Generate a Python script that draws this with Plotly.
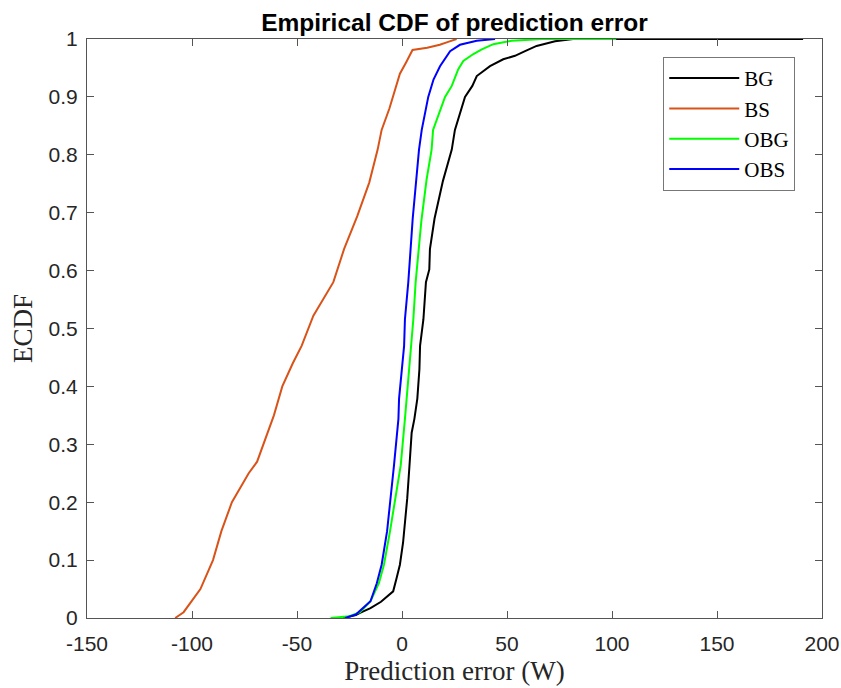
import plotly.graph_objects as go

# ---- data (prediction error in W, ECDF value) ----
bg_x = [-28, -22, -20, -15, -10, -4.2, -2.5, -1, 0.5, 2.5, 3.5, 4.6, 5.9, 7.3, 8.3, 8.6, 10.2,
        11.4, 13.0, 13.3, 15.5, 19.5, 23.7, 25.2, 30, 33.5, 35.6, 41.9, 48.2, 53.8, 58.6, 64.1,
        72.9, 81.5, 191]
bg_y = [0, 0.005, 0.009, 0.017, 0.028, 0.046, 0.07, 0.092, 0.13, 0.207, 0.26, 0.32, 0.344, 0.379,
        0.43, 0.47, 0.516, 0.58, 0.602, 0.637, 0.69, 0.755, 0.809, 0.843, 0.9, 0.919, 0.936, 0.953,
        0.965, 0.971, 0.979, 0.988, 0.996, 1.0, 1.0]

bs_x = [-108, -104, -100, -96, -90, -86, -81, -73, -69, -66, -61, -57, -52, -47.8, -42.2, -32.7,
        -27.6, -21.3, -15.6, -11.6, -9.7, -6, -3.3, -1, 2, 4, 5, 12, 18, 22, 26]
bs_y = [0, 0.01, 0.03, 0.05, 0.1, 0.15, 0.2, 0.25, 0.27, 0.3, 0.35, 0.4, 0.44, 0.47, 0.522, 0.58,
        0.637, 0.694, 0.752, 0.809, 0.843, 0.88, 0.912, 0.94, 0.96, 0.975, 0.981, 0.985, 0.99,
        0.995, 1.0]

obg_x = [-34, -25, -20, -15, -11, -8.6, -5.7, -3, -0.6, 1.4, 2.2, 4.1, 5.4, 6.5, 9.2, 11.7, 14.1,
         14.8, 20.5, 23.7, 26.8, 29.2, 34, 38, 43.5, 52.2, 67, 102]
obg_y = [0, 0.003, 0.01, 0.029, 0.06, 0.092, 0.15, 0.21, 0.264, 0.344, 0.379, 0.47, 0.516, 0.58,
         0.685, 0.757, 0.809, 0.843, 0.9, 0.919, 0.948, 0.962, 0.974, 0.982, 0.991, 0.997, 1.0, 1.0]

obs_x = [-27, -22, -15, -12, -9.7, -7.1, -3.8, -1.7, -1.4, 1.0, 1.4, 3.0, 5.1, 6.7, 8.1, 9.4,
         12.5, 15, 18.1, 22.9, 27.6, 35.6, 44.3]
obs_y = [0, 0.006, 0.029, 0.06, 0.092, 0.15, 0.264, 0.344, 0.379, 0.47, 0.516, 0.58, 0.69, 0.757,
         0.809, 0.843, 0.9, 0.93, 0.953, 0.979, 0.99, 0.997, 1.0]

series_names = ["BG", "BS", "OBG", "OBS"]
series_colors = ["#000000", "#D95319", "#00FF00", "#0000FF"]

x_ticks = [-150, -100, -50, 0, 50, 100, 150, 200]
x_ticktext = ["-150", "-100", "-50", "0", "50", "100", "150", "200"]
y_ticks = [0, 0.1, 0.2, 0.3, 0.4, 0.5, 0.6, 0.7, 0.8, 0.9, 1]
y_ticktext = ["0", "0.1", "0.2", "0.3", "0.4", "0.5", "0.6", "0.7", "0.8", "0.9", "1"]

fig = go.Figure()
for name, xs, ys, col in zip(series_names, [bg_x, bs_x, obg_x, obs_x],
                             [bg_y, bs_y, obg_y, obs_y], series_colors):
    fig.add_trace(go.Scatter(x=xs, y=ys, mode="lines", name=name,
                             line=dict(color=col, width=2)))

axis_col = "#555555"
tick_font = dict(family="Liberation Sans, Arial, sans-serif", size=21, color="#262626")
serif = "Liberation Serif, Times New Roman, serif"
common = dict(showgrid=False, zeroline=False, showline=True, linecolor=axis_col, linewidth=1,
              mirror="ticks", ticks="inside", ticklen=7, tickcolor=axis_col, tickwidth=1,
              tickfont=tick_font, automargin=False)

fig.update_xaxes(range=[-150, 200], tickvals=x_ticks, ticktext=x_ticktext,
                 ticklabelstandoff=7,
                 title=dict(text="Prediction error (W)", standoff=6,
                            font=dict(family=serif, size=27, color="#262626")),
                 **common)
fig.update_yaxes(range=[0, 1], tickvals=y_ticks, ticktext=y_ticktext,
                 ticklabelstandoff=4,
                 title=dict(text="ECDF", standoff=8,
                            font=dict(family=serif, size=27, color="#262626")),
                 **common)

fig.update_layout(
    width=841, height=688,
    margin=dict(l=87, r=19, t=39, b=70, autoexpand=False),
    paper_bgcolor="white", plot_bgcolor="white",
    title=dict(text="<b>Empirical CDF of prediction error</b>", x=0.5, xref="paper",
               y=1 - 22 / 688, yref="container", yanchor="middle", xanchor="center",
               font=dict(family="Liberation Sans, Arial, sans-serif", size=24.5, color="#000000")),
    legend=dict(x=0.784, y=0.969, xanchor="left", yanchor="top",
                bgcolor="white", bordercolor="#777777", borderwidth=1,
                font=dict(family=serif, size=21, color="#000000"),
                itemwidth=70, tracegroupgap=0),
    showlegend=True,
)

fig.write_html("out.html")
